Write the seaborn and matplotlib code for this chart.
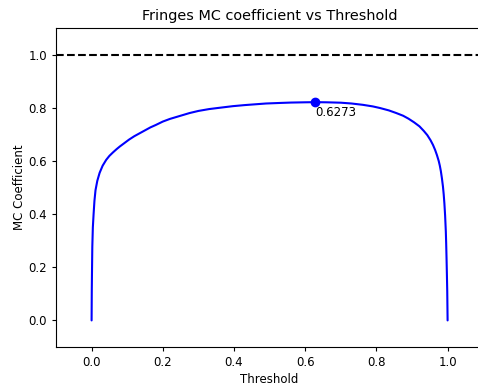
import seaborn as sns
import matplotlib
import matplotlib.pyplot as plt
matplotlib.use('Agg')
sns.set_theme(style="ticks")
plt.rcParams['font.family'] = ['DejaVu Sans']

# values
threshold = [0.0, 0.0005, 0.001, 0.002, 0.0035, 0.0056, 0.008, 0.011, 0.016, 0.0225, 0.031,
             0.041, 0.05, 0.06, 0.07, 0.079, 0.09, 0.105, 0.12, 0.135, 0.15, 0.165, 0.18,
             0.2, 0.22, 0.24, 0.26, 0.275, 0.3, 0.33, 0.36, 0.397, 0.43, 0.46, 0.49,
             0.528, 0.56, 0.6, 0.6273, 0.66, 0.7, 0.73, 0.762, 0.79, 0.81, 0.835, 0.856,
             0.875, 0.89, 0.906, 0.921, 0.933, 0.943, 0.952, 0.959, 0.965, 0.97, 0.975,
             0.978, 0.981, 0.984, 0.987, 0.989, 0.991, 0.993, 0.995, 0.996, 0.997, 0.998,
             0.999, 1.0]
mc_coef = [0.0, 0.11, 0.17, 0.277, 0.35, 0.40, 0.45, 0.49, 0.525, 0.555, 0.582,
           0.604, 0.619, 0.632, 0.644, 0.654, 0.665, 0.68, 0.693, 0.704, 0.715, 0.726,
           0.735, 0.748, 0.758, 0.766, 0.774, 0.78, 0.788, 0.795, 0.8, 0.806, 0.81,
           0.813, 0.816, 0.818, 0.8195, 0.8205, 0.821, 0.8205, 0.819, 0.816, 0.811,
           0.805, 0.799, 0.79, 0.78, 0.77, 0.759, 0.745, 0.73, 0.713, 0.697, 0.678,
           0.66, 0.641, 0.622, 0.6, 0.583, 0.562, 0.535, 0.503, 0.475, 0.44, 0.395, 0.335,
           0.29, 0.235, 0.175, 0.11, 0.0]
best_threshold = 0.6273
best_mc = 0.821
reference_level = 1.0

fig = plt.figure(figsize=(4.78, 3.87), dpi=100)
ax = fig.add_axes([56 / 478, 40 / 387, 1.2 * 356 / 478, 319 / 387])

sns.lineplot(x=threshold, y=mc_coef, color='blue', linewidth=1.5,
             estimator=None, sort=False, ax=ax)
ax.axhline(reference_level, color='black', linestyle='--', linewidth=1.5)
ax.plot([best_threshold], [best_mc], 'o', color='blue', markersize=6)
ax.text(best_threshold, best_mc - 0.015, '%.4f' % best_threshold,
        ha='left', va='top', fontsize=8.5, color='black')

ax.set_xlim(-0.1, 1.1)
ax.set_ylim(-0.1, 1.1)
ax.set_xticks([0.0, 0.2, 0.4, 0.6, 0.8, 1.0])
ax.set_yticks([0.0, 0.2, 0.4, 0.6, 0.8, 1.0])
ax.tick_params(labelsize=8.5, colors='black', length=3, width=0.8, pad=3.5)
for s in ax.spines.values():
    s.set_color('black')
    s.set_linewidth(0.8)
ax.set_xlabel('Threshold', fontsize=8.5, color='black', labelpad=3)
ax.set_ylabel('MC Coefficient', fontsize=8.5, color='black', labelpad=2)
ax.set_title('Fringes MC coefficient vs Threshold', fontsize=10.4, color='black', pad=6)

fig.savefig('out.png', dpi=100)
